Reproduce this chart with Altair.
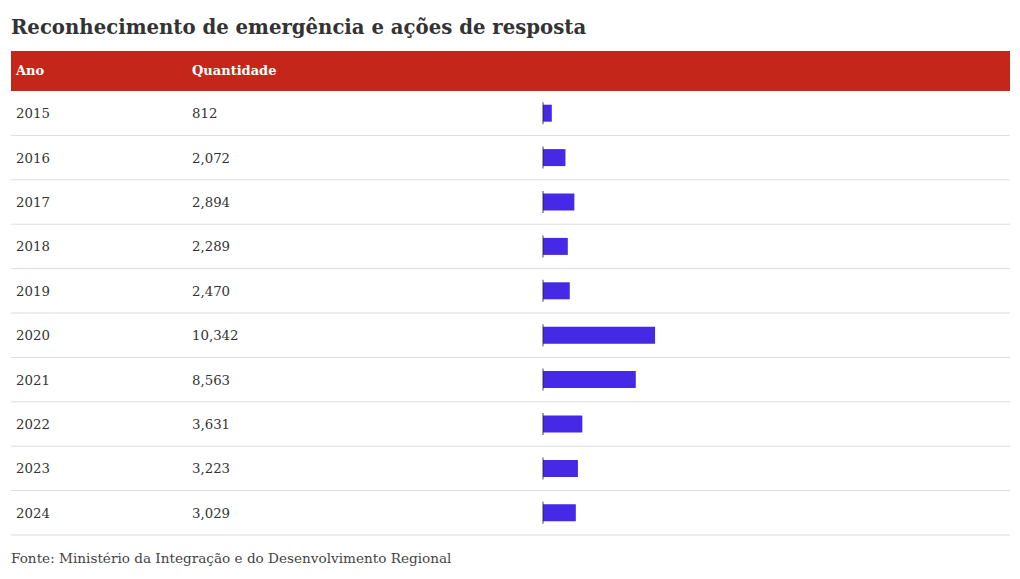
import altair as alt
import pandas as pd

anos = ["2015", "2016", "2017", "2018", "2019", "2020", "2021", "2022", "2023", "2024"]
quantidades = [812, 2072, 2894, 2289, 2470, 10342, 8563, 3631, 3223, 3029]
titulo = "Reconhecimento de emergência e ações de resposta"
cabecalhos = ["Ano", "Quantidade"]
fonte = "Fonte: Ministério da Integração e do Desenvolvimento Regional"

FONT = "DejaVu Serif"
W, H = 999, 444
RED = "#c4271a"
BAR = "#4529e6"
TXT = "#333333"

df = pd.DataFrame({
    "Ano": anos,
    "Quantidade": quantidades,
    "Rotulo": [f"{q:,}" for q in quantidades],
})

base = alt.Chart(df)
yband = alt.Y("Ano:O", sort=anos, scale=alt.Scale(paddingInner=0, paddingOuter=0), axis=None)

header_rect = alt.Chart(pd.DataFrame({"h": [1]})).mark_rect(color=RED).encode(
    x=alt.value(0), x2=alt.value(W), y=alt.value(-40), y2=alt.value(0)
)

hdr_df = pd.DataFrame({"t": cabecalhos, "px": [5, 181]})
header_text = alt.Chart(hdr_df).mark_text(
    font=FONT, fontSize=13, fontWeight="bold", color="white", align="left", baseline="middle"
).encode(
    text="t:N",
    x=alt.X("px:Q", scale=alt.Scale(domain=[0, W], range=[0, W]), axis=None),
    y=alt.value(-20),
)

title_text = alt.Chart(pd.DataFrame({"t": [titulo]})).mark_text(
    font=FONT, fontSize=19.7, fontWeight="bold", color=TXT, align="left", baseline="alphabetic"
).encode(text="t:N", x=alt.value(0), y=alt.value(-57))

footer_text = alt.Chart(pd.DataFrame({"t": [fonte]})).mark_text(
    font=FONT, fontSize=13.6, color="#444444", align="left", baseline="alphabetic"
).encode(text="t:N", x=alt.value(0), y=alt.value(472))

row_lines = base.mark_rule(color="#dddddd", strokeWidth=1).encode(
    y=alt.Y("Ano:O", sort=anos, bandPosition=1, scale=alt.Scale(paddingInner=0, paddingOuter=0), axis=None),
    x=alt.value(0), x2=alt.value(W),
)

year_text = base.mark_text(
    font=FONT, fontSize=13.3, color=TXT, align="left", baseline="middle", dy=1
).encode(text="Ano:N", y=yband, x=alt.value(5))

qty_text = base.mark_text(
    font=FONT, fontSize=13.3, color=TXT, align="left", baseline="middle", dy=1
).encode(text="Rotulo:N", y=yband, x=alt.value(181))

bars = base.mark_bar(color=BAR, size=17).encode(
    y=yband,
    x=alt.X("Quantidade:Q", scale=alt.Scale(domain=[0, 43100], range=[532, W]), axis=None),
)

ticks = base.mark_tick(color="#222222", orient="vertical", size=22, thickness=1.2).encode(
    y=yband, x=alt.value(532)
)

chart = alt.layer(
    header_rect, header_text, title_text, row_lines, year_text, qty_text, bars, ticks, footer_text
).resolve_scale(x="independent").properties(
    width=W, height=H,
    autosize=alt.AutoSizeParams(type="none"),
    padding={"left": 3, "top": 83, "right": 0, "bottom": 34},
).configure_view(stroke=None)

chart.save("out.html", embed_options={"renderer": "svg", "actions": False})
